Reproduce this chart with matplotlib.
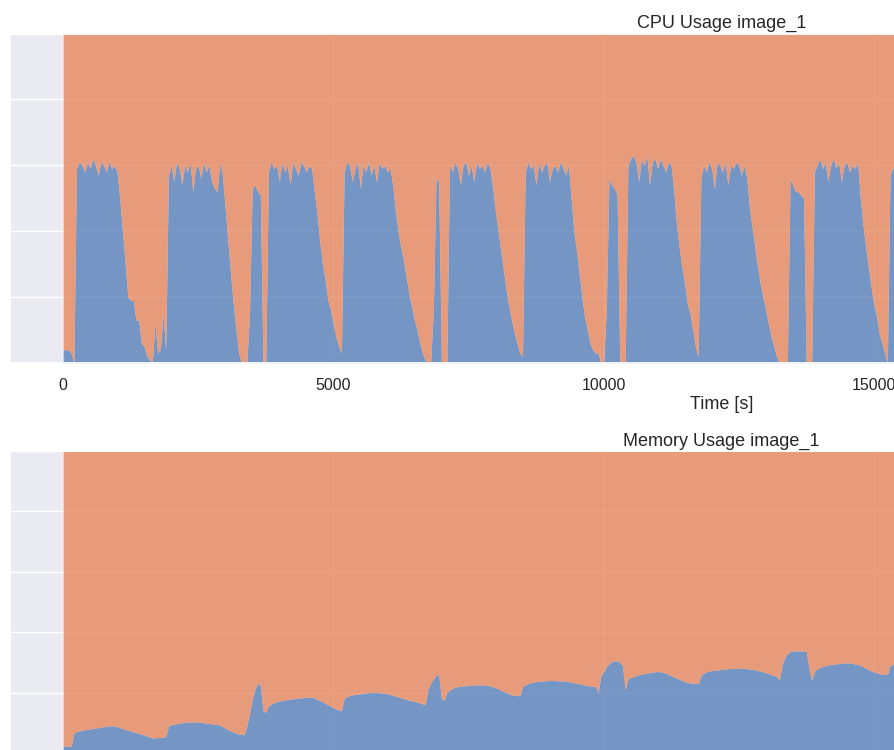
"""
CPU and memory usage of a container over time, drawn as stacked areas
(used share in blue, remaining share up to 100 % in orange).
"""
import matplotlib
matplotlib.use('Agg')
import matplotlib.pyplot as plt
import numpy as np
import seaborn as sns

sns.set_theme(style='darkgrid')
plt.rcParams['font.family'] = ['Liberation Sans', 'DejaVu Sans']

# samples taken every 50 s, values in percent
SAMPLE_STEP = 50
cpu_usage = [
    4, 4, 4, 3, 0, 59, 61, 60, 58, 61,
    59, 62, 60, 57, 61, 60, 58, 61, 59, 60,
    58, 50, 40, 30, 20, 19, 19, 13, 13, 6,
    5, 2, 1, 0, 12, 3, 4, 15, 4, 57,
    60, 55, 61, 59, 54, 60, 58, 61, 52, 59,
    60, 56, 61, 58, 60, 55, 53, 52, 61, 57,
    47, 37, 27, 18, 10, 3, 0, 0, 0, 15,
    53, 54, 52, 51, 0, 0, 58, 61, 59, 60,
    55, 61, 58, 60, 54, 61, 59, 57, 61, 60,
    58, 60, 59, 52, 45, 37, 30, 25, 19, 16,
    12, 8, 5, 3, 58, 61, 60, 55, 59, 61,
    53, 60, 58, 61, 57, 60, 55, 61, 59, 60,
    58, 59, 54, 46, 40, 35, 31, 26, 21, 17,
    13, 10, 6, 3, 1, 0, 0, 16, 56, 55,
    0, 0, 0, 60, 58, 61, 59, 54, 60, 61,
    57, 60, 55, 61, 59, 60, 58, 61, 59, 53,
    46, 40, 34, 28, 22, 17, 13, 9, 6, 3,
    2, 58, 61, 59, 60, 54, 61, 58, 60, 61,
    55, 59, 60, 58, 61, 59, 57, 60, 50, 40,
    34, 27, 20, 14, 10, 6, 4, 3, 3, 0,
    0, 16, 56, 54, 53, 51, 0, 0, 0, 60,
    62, 63, 61, 55, 62, 60, 63, 54, 61, 62,
    59, 62, 60, 58, 61, 60, 52, 42, 35, 29,
    24, 18, 15, 10, 5, 2, 56, 60, 58, 61,
    59, 53, 61, 60, 58, 61, 54, 60, 59, 61,
    60, 57, 60, 56, 47, 41, 35, 29, 24, 20,
    16, 12, 8, 5, 2, 0, 0, 0, 0, 56,
    54, 52, 52, 51, 50, 0, 0, 0, 58, 60,
    62, 59, 61, 55, 60, 62, 59, 61, 55, 60,
    61, 58, 60, 59, 61, 50, 42, 35, 29, 23,
    18, 14, 9, 6, 3, 0, 57, 59, 60, 58,
    61,
]
mem_usage = [
    2.3, 2.3, 2.3, 2.3, 6.5, 7.2, 7.3, 7.5, 7.7, 7.8,
    8.0, 8.1, 8.3, 8.4, 8.6, 8.7, 8.8, 9.0, 9.0, 8.9,
    8.8, 8.4, 8.1, 7.8, 7.5, 7.3, 7.0, 6.8, 6.5, 6.2,
    6.0, 5.6, 5.3, 5.0, 5.0, 5.1, 5.2, 5.2, 5.4, 9.0,
    9.3, 9.5, 9.7, 9.8, 10.0, 10.1, 10.2, 10.3, 10.3, 10.3,
    10.2, 10.2, 10.0, 9.9, 9.8, 9.6, 9.5, 9.4, 9.3, 8.8,
    8.2, 7.8, 7.3, 6.9, 6.6, 6.3, 6.2, 6.0, 9.0, 13.0,
    18.0, 21.0, 23.0, 22.5, 14.0, 13.5, 15.5, 16.2, 16.6, 17.0,
    17.2, 17.4, 17.5, 17.7, 17.8, 18.0, 18.0, 18.1, 18.2, 18.4,
    18.5, 18.5, 18.4, 18.2, 17.8, 17.4, 17.0, 16.5, 16.0, 15.5,
    15.0, 14.6, 14.2, 14.0, 18.0, 18.6, 19.0, 19.2, 19.4, 19.5,
    19.6, 19.8, 19.9, 20.0, 20.0, 20.1, 20.0, 20.0, 19.9, 19.8,
    19.6, 19.4, 19.1, 18.8, 18.6, 18.3, 18.0, 17.8, 17.5, 17.3,
    17.1, 16.9, 16.6, 16.3, 16.0, 21.0, 23.0, 24.5, 25.6, 26.0,
    18.0, 17.5, 20.0, 20.8, 21.3, 21.7, 22.0, 22.1, 22.2, 22.3,
    22.3, 22.4, 22.5, 22.5, 22.6, 22.5, 22.4, 22.4, 22.2, 22.0,
    21.6, 21.2, 20.8, 20.4, 20.0, 19.6, 19.3, 19.1, 19.0, 19.0,
    22.0, 22.6, 23.0, 23.3, 23.5, 23.6, 23.7, 23.8, 23.9, 24.0,
    24.0, 24.0, 24.0, 23.9, 23.9, 23.8, 23.7, 23.6, 23.5, 23.3,
    23.1, 22.9, 22.7, 22.5, 22.3, 22.2, 22.1, 22.0, 20.0, 25.6,
    27.0, 28.5, 29.5, 30.3, 30.5, 30.5, 30.0, 29.0, 21.0, 24.5,
    25.0, 25.3, 25.6, 25.9, 26.1, 26.3, 26.5, 26.6, 26.8, 26.9,
    27.0, 26.9, 26.7, 26.4, 26.0, 25.6, 25.2, 24.8, 24.4, 24.0,
    23.6, 23.4, 23.2, 23.1, 23.0, 23.0, 25.6, 26.4, 26.9, 27.1,
    27.3, 27.4, 27.5, 27.6, 27.7, 27.8, 27.9, 28.0, 28.0, 28.0,
    28.1, 28.0, 28.0, 27.9, 27.8, 27.7, 27.5, 27.3, 27.1, 26.9,
    26.6, 26.3, 26.0, 25.7, 25.4, 24.0, 29.0, 31.5, 32.8, 33.5,
    33.8, 33.8, 33.8, 33.8, 33.8, 33.6, 28.0, 24.0, 27.0, 27.8,
    28.3, 28.6, 28.9, 29.1, 29.3, 29.4, 29.5, 29.6, 29.7, 29.8,
    29.8, 29.8, 29.7, 29.5, 29.3, 29.0, 28.6, 28.1, 27.6, 27.2,
    26.9, 26.6, 26.3, 26.0, 26.0, 26.0, 29.0, 29.3, 29.5, 29.6,
    29.7,
]
time_s = np.arange(len(cpu_usage)) * SAMPLE_STEP
time_ticks = [0, 5000, 10000, 15000]

USED_COLOR = '#5881BA'
FREE_COLOR = '#E7885E'

fig = plt.figure(figsize=(8.95, 7.5), dpi=100)
ax_cpu = fig.add_axes([10 / 895, 1 - 363 / 750, 1423 / 895, 329.5 / 750])
ax_mem = fig.add_axes([10 / 895, 1 - 753 / 750, 1423 / 895, 302 / 750])

panels = [(ax_cpu, cpu_usage, 'CPU Usage image_1'),
          (ax_mem, mem_usage, 'Memory Usage image_1')]
for ax, usage, title in panels:
    usage = np.asarray(usage, dtype=float)
    ax.stackplot(time_s, usage, 100 - usage,
                 colors=[USED_COLOR, FREE_COLOR], alpha=0.8, linewidth=0)
    ax.set_xlim(-981, 25345)
    ax.set_ylim(0, 100)
    ax.set_xticks(time_ticks)
    ax.set_yticks(range(0, 101, 20))
    ax.set_title(title, fontsize=13, pad=4)
    ax.tick_params(axis='x', labelsize=11.5, pad=5)
    ax.tick_params(axis='y', labelleft=False)

ax_cpu.set_xlabel('Time [s]', fontsize=13, labelpad=2)
ax_mem.tick_params(axis='x', labelbottom=False)

fig.savefig('out.png', dpi=100)
